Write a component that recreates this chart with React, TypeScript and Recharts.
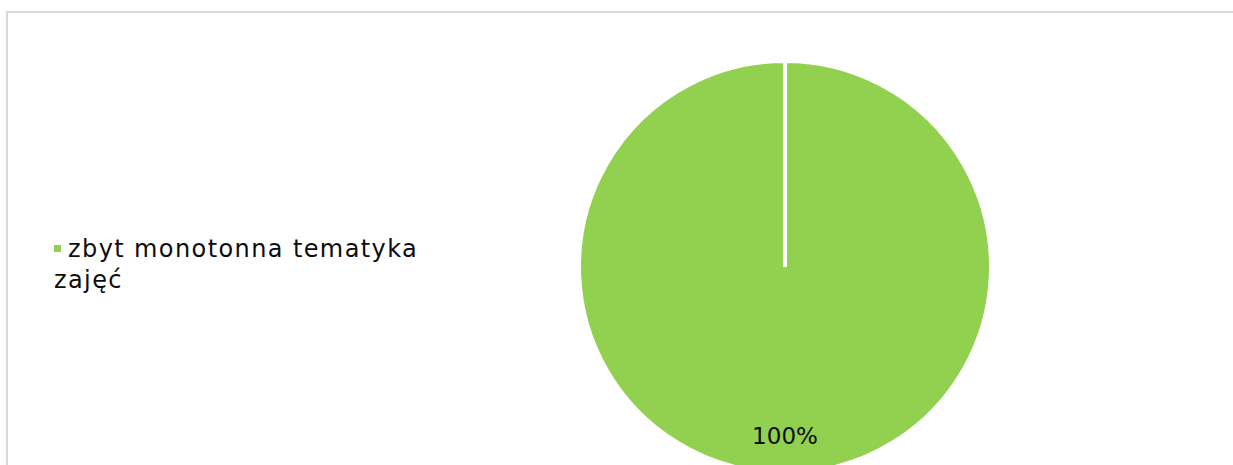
import React from 'react';
import { PieChart, Pie, Cell, Legend } from 'recharts';

const categories = ['zbyt monotonna tematyka zajęć'];
const shares = [100];
const colors = ['#92d050'];

const data = categories.map((name, i) => ({ name, value: shares[i] }));
const total = shares.reduce((a, b) => a + b, 0);

const FONT = '"DejaVu Sans", sans-serif';
const RAD = Math.PI / 180;

// percentage inside the slice, near the rim
function renderLabel(props: any) {
    const { cx, cy, midAngle, outerRadius, value } = props;
    const r = outerRadius * 0.82;
    const x = cx + r * Math.cos(-midAngle * RAD);
    const y = cy + r * Math.sin(-midAngle * RAD);
    return (
        <text
            x={x}
            y={y}
            fill="#0d0d0d"
            textAnchor="middle"
            dominantBaseline="central"
            style={{ fontFamily: FONT, fontSize: 23 }}
        >
            {`${Math.round((value / total) * 100)}%`}
        </text>
    );
}

function renderLegend() {
    return (
        <div style={{ width: 380, fontFamily: FONT, fontSize: 24, lineHeight: '31px', letterSpacing: 1.4, color: '#0d0d0d' }}>
            {data.map((d, i) => (
                <div key={d.name}>
                    <span
                        style={{
                            display: 'inline-block',
                            width: 7,
                            height: 7,
                            backgroundColor: colors[i],
                            marginRight: 7,
                            verticalAlign: 'middle',
                            position: 'relative',
                            top: -2,
                        }}
                    />
                    {d.name}
                </div>
            ))}
        </div>
    );
}

export default function App() {
    return (
        <div style={{ position: 'absolute', left: 0, top: 0, width: 1233, height: 465, overflow: 'hidden', background: '#fff' }}>
            <div
                style={{
                    position: 'absolute',
                    left: 6,
                    top: 11,
                    width: 1300,
                    height: 600,
                    border: '2px solid #d9d9d9',
                    boxSizing: 'border-box',
                }}
            />
            <div style={{ position: 'absolute', left: 0, top: 0 }}>
                <PieChart width={1233} height={465} margin={{ top: 0, right: 0, bottom: 0, left: 0 }}>
                    <Pie
                        data={data}
                        dataKey="value"
                        nameKey="name"
                        cx={785}
                        cy={267}
                        outerRadius={206}
                        startAngle={90}
                        endAngle={-270}
                        stroke="#ffffff"
                        strokeWidth={4}
                        label={renderLabel}
                        labelLine={false}
                        isAnimationActive={false}
                    >
                        {data.map((d, i) => (
                            <Cell key={d.name} fill={colors[i]} />
                        ))}
                    </Pie>
                    <Legend
                        content={renderLegend}
                        wrapperStyle={{ left: 54, top: 234, width: 380, bottom: 'auto' }}
                    />
                </PieChart>
            </div>
        </div>
    );
}
